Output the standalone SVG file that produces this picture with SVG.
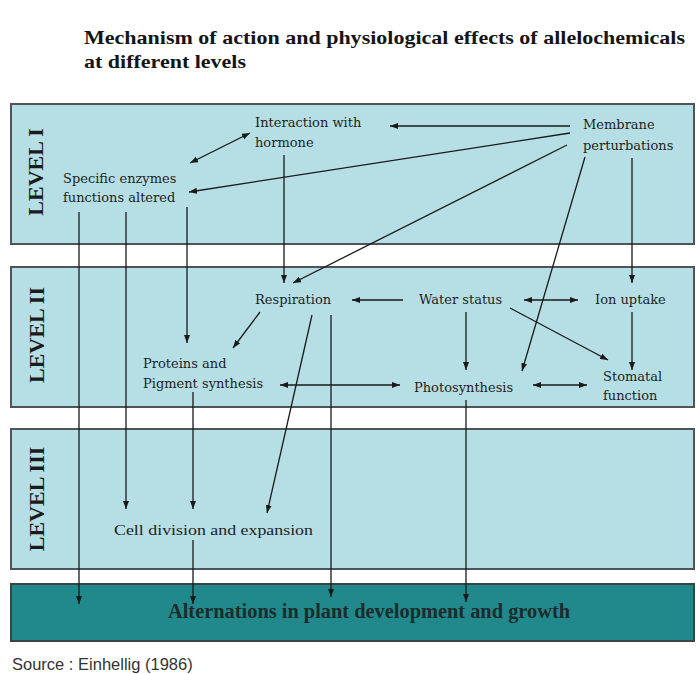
<svg xmlns="http://www.w3.org/2000/svg" width="697" height="674" viewBox="0 0 697 674">
<defs>
<style>
.level{fill:#b6dfe5;stroke:#4f5556;stroke-width:2}
.bar{fill:#21898b;stroke:#3a4446;stroke-width:2}
.lvl{font-family:"Liberation Serif","Times New Roman",serif;font-weight:bold;font-size:22px;fill:#1b1b1b;text-anchor:middle}
.node{font-family:"DejaVu Serif","Liberation Serif",serif;font-size:13px;fill:#1e1e1e}
.title{font-family:"Liberation Serif","Times New Roman",serif;font-weight:bold;font-size:19px;fill:#151515}
.c{stroke:#1a1a1a;stroke-width:1.3;fill:none;marker-end:url(#ah)}
.d{marker-start:url(#ah)}
</style>
<marker id="ah" viewBox="0 0 8 6" refX="8" refY="3" markerWidth="8" markerHeight="6" markerUnits="userSpaceOnUse" orient="auto-start-reverse">
<path d="M0,0 L8,3 L0,6 z" fill="#1a1a1a"/>
</marker>
</defs>
<rect width="697" height="674" fill="#ffffff"/>

<g id="title">
<text class="title" x="84" y="44" textLength="601" lengthAdjust="spacingAndGlyphs">Mechanism of action and physiological effects of allelochemicals</text>
<text class="title" x="84" y="68" textLength="162" lengthAdjust="spacingAndGlyphs">at different levels</text>
</g>

<g id="level1">
<rect class="level" x="11" y="104" width="683" height="140"/>
<text class="lvl" transform="translate(43,172) rotate(-90)">LEVEL I</text>
</g>
<g id="level2">
<rect class="level" x="11" y="267" width="683" height="140"/>
<text class="lvl" transform="translate(44,335) rotate(-90)">LEVEL II</text>
</g>
<g id="level3">
<rect class="level" x="11" y="429" width="683" height="140"/>
<text class="lvl" transform="translate(44,499) rotate(-90)">LEVEL III</text>
</g>
<g id="growth">
<rect class="bar" x="11" y="584" width="683" height="57"/>
<text x="168" y="618" textLength="402" lengthAdjust="spacingAndGlyphs" style="font-family:'Liberation Serif','Times New Roman',serif;font-size:20px;font-weight:bold;fill:#1c2b2c">Alternations in plant development and growth</text>
</g>

<g id="connectors">
<path class="c" d="M570,126 L390,126"/>
<path class="c" d="M570,133 L189,192"/>
<path class="c" d="M567,145 L293,283"/>
<path class="c" d="M585,157 L522,371"/>
<path class="c" d="M632,158 L632,283"/>
<path class="c d" d="M250,133 L190,163"/>
<path class="c" d="M284,155 L284,283"/>
<path class="c" d="M79,212 L79,604"/>
<path class="c" d="M126,212 L126,509"/>
<path class="c" d="M187,207 L187,343"/>
<path class="c" d="M260,312 L233,348"/>
<path class="c" d="M312,315 L267,513"/>
<path class="c" d="M331,315 L331,597"/>
<path class="c" d="M403,300 L352,300"/>
<path class="c d" d="M524,300 L578,300"/>
<path class="c" d="M466,312 L466,370"/>
<path class="c" d="M510,308 L608,360"/>
<path class="c" d="M632,312 L632,370"/>
<path class="c d" d="M533,385 L587,385"/>
<path class="c d" d="M280,385 L400,385"/>
<path class="c" d="M193,392 L193,509"/>
<path class="c" d="M466,400 L466,602"/>
<path class="c" d="M193,540 L193,604"/>
</g>

<g id="interaction">
<text class="node" x="255" y="127">Interaction with</text>
<text class="node" x="255" y="147">hormone</text>
</g>
<g id="membrane">
<text class="node" x="583" y="129">Membrane</text>
<text class="node" x="583" y="150">perturbations</text>
</g>
<g id="enzymes">
<text class="node" x="63" y="183">Specific enzymes</text>
<text class="node" x="63" y="202">functions altered</text>
</g>
<g id="respiration">
<text class="node" x="255" y="304">Respiration</text>
</g>
<g id="water">
<text class="node" x="419" y="304">Water status</text>
</g>
<g id="ion">
<text class="node" x="595" y="304">Ion uptake</text>
</g>
<g id="proteins">
<text class="node" x="143" y="368">Proteins and</text>
<text class="node" x="143" y="388">Pigment synthesis</text>
</g>
<g id="photosynthesis">
<text class="node" x="414" y="392">Photosynthesis</text>
</g>
<g id="stomatal">
<text class="node" x="603" y="381">Stomatal</text>
<text class="node" x="603" y="400">function</text>
</g>
<g id="cell">
<text x="114" y="535" textLength="199" lengthAdjust="spacingAndGlyphs" style="font-family:'Liberation Serif','Times New Roman',serif;font-size:15px;fill:#1e1e1e">Cell division and expansion</text>
</g>

<text x="12" y="670" style="font-family:'Liberation Sans',Arial,sans-serif;font-size:16.5px;fill:#333">Source : Einhellig (1986)</text>
</svg>
